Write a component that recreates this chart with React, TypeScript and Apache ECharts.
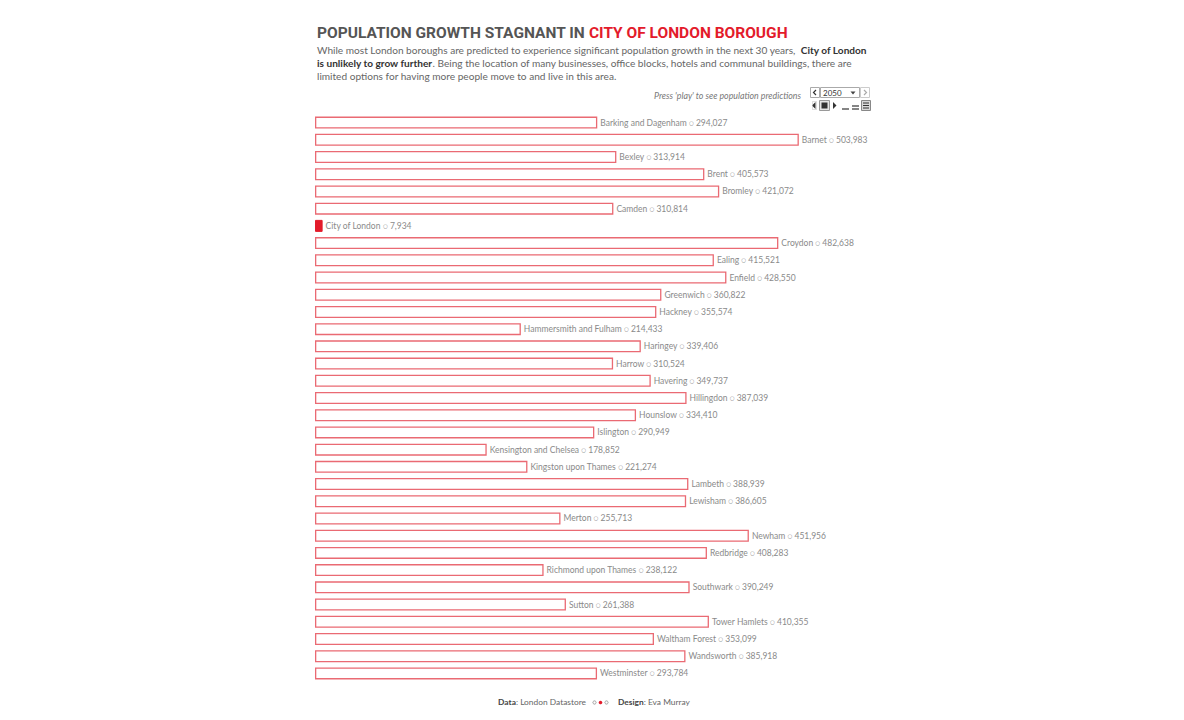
import React, { useEffect, useRef } from "react";
import * as echarts from "echarts";

const boroughs = [
  "Barking and Dagenham", "Barnet", "Bexley", "Brent", "Bromley", "Camden", "City of London",
  "Croydon", "Ealing", "Enfield", "Greenwich", "Hackney", "Hammersmith and Fulham", "Haringey",
  "Harrow", "Havering", "Hillingdon", "Hounslow", "Islington", "Kensington and Chelsea",
  "Kingston upon Thames", "Lambeth", "Lewisham", "Merton", "Newham", "Redbridge",
  "Richmond upon Thames", "Southwark", "Sutton", "Tower Hamlets", "Waltham Forest",
  "Wandsworth", "Westminster",
];

const population2050 = [
  294027, 503983, 313914, 405573, 421072, 310814, 7934,
  482638, 415521, 428550, 360822, 355574, 214433, 339406,
  310524, 349737, 387039, 334410, 290949, 178852,
  221274, 388939, 386605, 255713, 451956, 408283,
  238122, 390249, 261388, 410355, 353099,
  385918, 293784,
];

const highlight = "City of London";
const selectedYear = "2050";

const RED = "#e31b2b";
const OUTLINE = "#ea6a73";
const FONT = "Lato, 'Open Sans', sans-serif";
const TITLE_FONT = "Roboto, Lato, sans-serif";

export default function App() {
  const ref = useRef<HTMLDivElement>(null);
  useEffect(() => {
    document.body.style.margin = "0";
    const chart = echarts.init(ref.current!, null, { renderer: "svg" });
    const fmt = (v: number) => v.toLocaleString("en-US");
    chart.setOption({
      animation: false,
      backgroundColor: "#ffffff",
      grid: { left: 315, top: 114, width: 576, height: 568, containLabel: false },
      xAxis: { type: "value", min: 0, max: 600000, show: false },
      yAxis: { type: "category", data: boroughs, inverse: true, show: false },
      series: [
        {
          type: "bar",
          barWidth: 12,
          data: population2050.map((v, i) =>
            boroughs[i] === highlight
              ? { value: v, itemStyle: { color: RED, borderColor: RED, borderWidth: 1 } }
              : { value: v, itemStyle: { color: "#ffffff", borderColor: OUTLINE, borderWidth: 1.3 } }
          ),
          label: {
            show: true,
            position: "right",
            distance: 3,
            fontFamily: FONT,
            fontSize: 8.5,
            color: "#8a8a8a",
            formatter: (p: any) => `{t|${p.name} }{c|○}{t| ${fmt(p.value)}}`,
            rich: {
              t: { fontFamily: FONT, fontSize: 8.5, color: "#8a8a8a" },
              c: { fontFamily: "DejaVu Sans, sans-serif", fontSize: 5.5, color: "#8a8a8a" },
            },
          },
        },
      ],
      graphic: [
        {
          type: "text",
          left: 317,
          top: 25,
          style: {
            text: "{a|POPULATION GROWTH STAGNANT IN }{b|CITY OF LONDON BOROUGH}",
            rich: {
              a: { fontFamily: TITLE_FONT, fontSize: 15.5, fontWeight: "bold", fill: "#555555" },
              b: { fontFamily: TITLE_FONT, fontSize: 15.5, fontWeight: "bold", fill: RED },
            },
          },
        },
        {
          type: "text",
          left: 317,
          top: 45,
          style: {
            text:
              "{n|While most London boroughs are predicted to experience significant population growth in the next 30 years,  }{bd|City of London}\n" +
              "{bd|is unlikely to grow further}{n|. Being the location of many businesses, office blocks, hotels and communal buildings, there are}\n" +
              "{n|limited options for having more people move to and live in this area.}",
            rich: {
              n: { fontFamily: FONT, fontSize: 10.1, fill: "#666666", lineHeight: 13 },
              bd: { fontFamily: FONT, fontSize: 10.1, fontWeight: "bold", fill: "#333333", lineHeight: 13 },
            },
          },
        },
        {
          type: "text",
          right: 1184 - 801,
          top: 91,
          style: {
            text: "Press 'play' to see population predictions",
            fontFamily: FONT,
            fontSize: 8.8,
            fontStyle: "italic",
            fill: "#777777",
          },
        },
        // year selector
        { type: "rect", shape: { x: 810.5, y: 87.5, width: 9, height: 10 }, style: { fill: "#fff", stroke: "#aaa", lineWidth: 1 } },
        { type: "polyline", shape: { points: [[816, 90], [813.5, 92.5], [816, 95]] }, style: { stroke: "#333", lineWidth: 1.2, fill: "none" } },
        { type: "rect", shape: { x: 820.5, y: 87.5, width: 39, height: 10 }, style: { fill: "#fff", stroke: "#aaa", lineWidth: 1 } },
        { type: "text", left: 823, top: 88.5, style: { text: selectedYear, fontFamily: FONT, fontSize: 8, fill: "#333" } },
        { type: "polygon", shape: { points: [[850.5, 91.5], [855.5, 91.5], [853, 94.5]] }, style: { fill: "#444" } },
        { type: "rect", shape: { x: 860.5, y: 87.5, width: 9, height: 10 }, style: { fill: "#fff", stroke: "#ccc", lineWidth: 1 } },
        { type: "polyline", shape: { points: [[864, 90], [866.5, 92.5], [864, 95]] }, style: { stroke: "#aaa", lineWidth: 1.2, fill: "none" } },
        // play controls
        { type: "polygon", shape: { points: [[815.5, 102], [815.5, 109], [812, 105.5]] }, style: { fill: "#333" } },
        { type: "rect", shape: { x: 812.5, y: 101.5, width: 4, height: 8 }, style: { fill: "none", stroke: "#bbb", lineWidth: 0.5 } },
        { type: "rect", shape: { x: 819.5, y: 100.5, width: 10, height: 10 }, style: { fill: "#e6e6e6", stroke: "#999", lineWidth: 1 } },
        { type: "rect", shape: { x: 821.5, y: 102.5, width: 6, height: 6 }, style: { fill: "#333" } },
        { type: "polygon", shape: { points: [[833, 102], [833, 109], [836.5, 105.5]] }, style: { fill: "#333" } },
        { type: "line", shape: { x1: 842, y1: 109, x2: 849, y2: 109 }, style: { stroke: "#333", lineWidth: 1.2 } },
        { type: "line", shape: { x1: 852, y1: 106, x2: 859, y2: 106 }, style: { stroke: "#333", lineWidth: 1.2 } },
        { type: "line", shape: { x1: 852, y1: 109, x2: 859, y2: 109 }, style: { stroke: "#333", lineWidth: 1.2 } },
        { type: "rect", shape: { x: 861.5, y: 100.5, width: 9, height: 10 }, style: { fill: "#d9d9d9", stroke: "#888", lineWidth: 1 } },
        { type: "line", shape: { x1: 863, y1: 103, x2: 869, y2: 103 }, style: { stroke: "#333", lineWidth: 1 } },
        { type: "line", shape: { x1: 863, y1: 105.5, x2: 869, y2: 105.5 }, style: { stroke: "#333", lineWidth: 1 } },
        { type: "line", shape: { x1: 863, y1: 108, x2: 869, y2: 108 }, style: { stroke: "#333", lineWidth: 1 } },
        // footer
        {
          type: "text",
          right: 1184 - 586,
          top: 698,
          style: {
            text: "{b|Data}{n|: London Datastore}",
            rich: {
              b: { fontFamily: FONT, fontSize: 8.4, fontWeight: "bold", fill: "#444" },
              n: { fontFamily: FONT, fontSize: 8.4, fill: "#666" },
            },
          },
        },
        { type: "circle", shape: { cx: 594.5, cy: 702.5, r: 1.6 }, style: { fill: "#fff", stroke: "#888", lineWidth: 0.8 } },
        { type: "circle", shape: { cx: 600.5, cy: 702.5, r: 1.8 }, style: { fill: RED } },
        { type: "circle", shape: { cx: 606.5, cy: 702.5, r: 1.6 }, style: { fill: "#fff", stroke: "#888", lineWidth: 0.8 } },
        {
          type: "text",
          left: 618,
          top: 698,
          style: {
            text: "{b|Design}{n|: Eva Murray}",
            rich: {
              b: { fontFamily: FONT, fontSize: 8.4, fontWeight: "bold", fill: "#444" },
              n: { fontFamily: FONT, fontSize: 8.4, fill: "#666" },
            },
          },
        },
      ],
    });
    return () => chart.dispose();
  }, []);
  return <div ref={ref} style={{ width: 1184, height: 720 }} />;
}
